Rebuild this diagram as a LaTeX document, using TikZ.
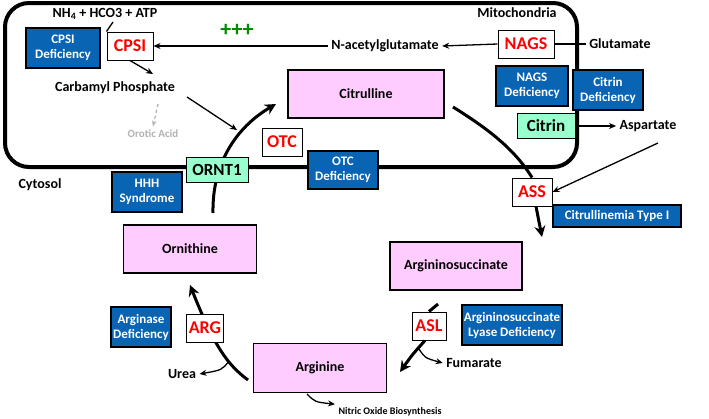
\documentclass[tikz,border=0pt]{standalone}
\usepackage{fontspec}
\setmainfont{Carlito}
\usetikzlibrary{arrows.meta,backgrounds}
\definecolor{dblue}{RGB}{10,100,180}
\definecolor{pinkf}{RGB}{255,204,255}
\definecolor{mint}{RGB}{153,255,204}
\definecolor{dgreen}{RGB}{0,140,0}
\begin{document}
\begin{tikzpicture}[x=1pt,y=-1pt,font=\bfseries\fontsize{14}{15}\selectfont,
 def/.style={draw=black,line width=1.5pt,fill=dblue,text=white,align=center,inner sep=1pt,font=\bfseries\fontsize{13}{15}\selectfont},
 enz/.style={draw=black,line width=1pt,fill=white,text=red,inner sep=1pt,minimum height=28pt,font=\bfseries\fontsize{18}{18}\selectfont},
 met/.style={draw=black,line width=1.5pt,fill=pinkf},
 tr/.style={draw=black,line width=1pt,fill=mint,inner sep=2pt,minimum height=25pt,font=\bfseries\fontsize{17}{18}\selectfont},
 thin/.style={line width=1.3pt,-{Stealth[length=7pt,width=6pt]}},
 thick/.style={line width=3pt,-{Stealth[length=11pt,width=11pt]}}]
\useasboundingbox (0,0) rectangle (709,418);
% labels
\node (nh) at (105,14) {NH\textsubscript{4} + HCO3 + ATP};
\node (mito) at (517,13) {Mitochondria};
\node (cyt) at (40,185) {Cytosol};
\node[text=dgreen,font=\bfseries\fontsize{22}{22}\selectfont] (plus) at (237,30) {+++};
\node (nag) at (385,46) {N-acetylglutamate};
\node (glu) at (620,44) {Glutamate};
\node (cp) at (115,88) {Carbamyl Phosphate};
\node[text=gray!60,font=\bfseries\fontsize{11}{12}\selectfont] (oro) at (153,134) {Orotic Acid};
\node (asp) at (648,126) {Aspartate};
\node (fum) at (474,363) {Fumarate};
\node (urea) at (182,374) {Urea};
\node[font=\bfseries\fontsize{10}{11}\selectfont] (no) at (390,412) {Nitric Oxide Biosynthesis};
% enzymes
\node[enz,minimum width=46pt] (cpsi) at (130,46) {CPSI};
\node[enz,minimum width=56pt] (nags) at (526,44) {NAGS};
\node[enz,minimum width=40pt] (otc) at (282,142) {OTC};
\node[enz,minimum width=40pt] (ass) at (532,192) {ASS};
\node[enz,minimum width=34pt] (asl) at (429,326) {ASL};
\node[enz,minimum width=37pt] (arg) at (205,328) {ARG};
% transporters
\node[tr,minimum width=62pt] (ornt) at (217,170) {ORNT1};
\node[tr,minimum width=58pt] (citrin) at (546,126) {Citrin};
% metabolites
\node[met,minimum width=156pt,minimum height=48pt] (citr) at (366,94) {Citrulline};
\node[met,minimum width=133pt,minimum height=48pt] (orn) at (190,249) {Ornithine};
\node[met,minimum width=132pt,minimum height=48pt] (asu) at (456,266) {Argininosuccinate};
\node[met,minimum width=133pt,minimum height=49pt] (argn) at (320,368) {Arginine};
% deficiencies
\node[def,minimum width=74pt,minimum height=40pt] (d1) at (63,48) {CPSI\\Deficiency};
\node[def,minimum width=72pt,minimum height=40pt] (d2) at (532,86) {NAGS\\Deficiency};
\node[def,minimum width=70pt,minimum height=40pt] (d3) at (608,90) {Citrin\\Deficiency};
\node[def,minimum width=70pt,minimum height=38pt] (d4) at (343,170) {OTC\\Deficiency};
\node[def,minimum width=70pt,minimum height=40pt] (d5) at (147,192) {HHH\\Syndrome};
\node[def,minimum width=128pt,minimum height=22pt] (d6) at (617,216) {Citrullinemia Type I};
\node[def,minimum width=100pt,minimum height=40pt] (d7) at (512,325) {Argininosuccinate\\Lyase Deficiency};
\node[def,minimum width=60pt,minimum height=40pt] (d8) at (141,327) {Arginase\\Deficiency};
% helper coordinates
\coordinate (nhe) at (113,22);
\coordinate (cpin) at (153,74);
\coordinate (cpout) at (187,97);
\coordinate (otcin) at (237,130);
\coordinate (orostart) at (158,104);
\coordinate (orntstart) at (213,213);
\coordinate (citrtip) at (276,104);
\coordinate (citrout) at (453,107);
\coordinate (assout) at (542,237);
\coordinate (citrinin) at (532,126);
\coordinate (aspout) at (658,143);
\coordinate (asuout) at (438,304);
\coordinate (aslend) at (400,372);
\coordinate (fumst) at (419,349);
\coordinate (argst) at (248,380);
\coordinate (ornend) at (190,285);
\coordinate (ureast) at (229,361);
\coordinate (nost) at (307,394);
\begin{scope}[on background layer]
\draw[line width=4pt,rounded corners=24pt] (5,3) rectangle (577,167);
\draw[line width=1.3pt] (nhe) -- (cpsi.north west);
\draw[line width=1.3pt] (glu.west) -- (nags.east);
\draw[line width=1.3pt] (citrinin) -- (citrin.west);
\draw[thick] (orntstart) .. controls (212,165) and (235,128) .. (citrtip);
\draw[thick] (argst) .. controls (228,365) and (215,348) .. (ornend);
\end{scope}
% connectors
\draw[thin] (cpsi.south) -- (cpin);
\draw[thin] (nag.west) -- (cpsi.east);
\draw[thin] (nags.west) -- (nag.east);
\draw[thin] (cpout) -- (otcin);
\draw[line width=1.3pt,gray!60,dashed,-{Stealth[length=6pt]}] (orostart) -- (oro.north);
\draw[line width=3pt] (citrout) .. controls (490,130) and (515,150) .. (ass.north);
\draw[thick] (ass.south) ++(4,0) -- (assout);
\draw[thin] (citrin.east) -- (asp.west);
\draw[thin] (aspout) -- (ass.east);
\draw[line width=3pt] (asuout) -- (asl.north);
\draw[thick] (asl.south) ++(-4,0) .. controls (412,355) .. (aslend);
\draw[thin] (fumst) .. controls (425,358) .. (fum.west);
\draw[thin] (ureast) .. controls (222,370) .. (urea.east);
\draw[thin] (nost) .. controls (315,402) .. (no.north west);
\end{tikzpicture}
\end{document}
